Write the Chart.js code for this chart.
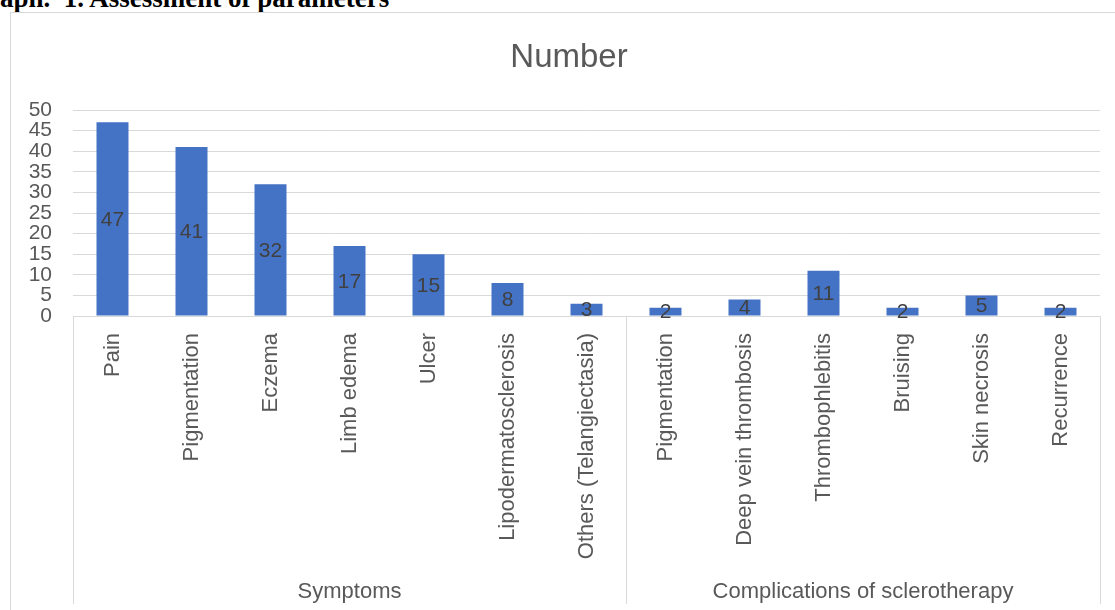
<!DOCTYPE html>
<html>
<head>
<meta charset="utf-8">
<script src="https://cdn.jsdelivr.net/npm/chart.js@4/dist/chart.umd.min.js"></script>
<style>
  html, body { margin: 0; padding: 0; background: #ffffff; overflow: hidden; }
  body { width: 1115px; height: 610px; position: relative; }
  #caption {
    position: absolute; left: -33px; top: -15px;
    font: bold 27px "Liberation Serif", "Times New Roman", serif;
    line-height: 27px; white-space: pre; color: #000;
  }
  #frame {
    position: absolute; left: 10px; top: 12px; width: 1120px; height: 620px;
    border: 1px solid #d9d9d9; box-sizing: border-box;
  }
  #chart { position: absolute; left: 0; top: 0; }
</style>
</head>
<body>
<div id="caption">Graph.  1. Assessment of parameters</div>
<div id="frame"></div>
<canvas id="chart" width="1115" height="610"></canvas>
<script>
// Category labels along the x axis
const categories = [
  'Pain', 'Pigmentation', 'Eczema', 'Limb edema', 'Ulcer',
  'Lipodermatosclerosis', 'Others (Telangiectasia)',
  'Pigmentation', 'Deep vein thrombosis', 'Thrombophlebitis',
  'Bruising', 'Skin necrosis', 'Recurrence'
];
// Number of patients per category
const values = [47, 41, 32, 17, 15, 8, 3, 2, 4, 11, 2, 5, 2];
// Outer grouping of the categories
const groupNames = ['Symptoms', 'Complications of sclerotherapy'];
const groupSizes = [7, 6];
// Y axis range and step
const yMin = 0;
const yMax = 50;
const yStep = 5;

const FONT = '"Liberation Sans", Arial, sans-serif';
const GRID = '#d9d9d9';
const TEXT = '#595959';

const chartTitle = {
  id: 'chartTitle',
  afterDraw(chart) {
    const ctx = chart.ctx;
    ctx.save();
    ctx.font = '33px ' + FONT;
    ctx.fillStyle = TEXT;
    ctx.textAlign = 'center';
    ctx.textBaseline = 'alphabetic';
    ctx.fillText('Number', 569, 67);
    ctx.restore();
  }
};

const barValues = {
  id: 'barValues',
  afterDatasetsDraw(chart) {
    const ctx = chart.ctx;
    const meta = chart.getDatasetMeta(0);
    ctx.save();
    ctx.font = '21px ' + FONT;
    ctx.fillStyle = '#404040';
    ctx.textAlign = 'center';
    ctx.textBaseline = 'middle';
    meta.data.forEach((bar, i) => {
      const mid = (bar.y + bar.base) / 2;
      ctx.fillText(String(values[i]), bar.x, mid + 1);
    });
    ctx.restore();
  }
};

const groupAxis = {
  id: 'groupAxis',
  afterDraw(chart) {
    const ctx = chart.ctx;
    const x = chart.scales.x;
    const area = chart.chartArea;
    const bottom = 604;
    const half = (x.getPixelForValue(1) - x.getPixelForValue(0)) / 2;
    ctx.save();
    ctx.strokeStyle = GRID;
    ctx.lineWidth = 1;
    const edges = [area.left];
    let start = 0;
    groupSizes.forEach((n) => {
      start += n;
      const idx = start - 1;
      edges.push(idx === categories.length - 1 ? area.right : x.getPixelForValue(idx) + half);
    });
    edges.forEach((ex) => {
      const px = Math.round(ex) + 0.5;
      ctx.beginPath();
      ctx.moveTo(px, area.bottom);
      ctx.lineTo(px, bottom);
      ctx.stroke();
    });
    ctx.font = '22px ' + FONT;
    ctx.fillStyle = TEXT;
    ctx.textAlign = 'center';
    ctx.textBaseline = 'alphabetic';
    groupNames.forEach((name, g) => {
      ctx.fillText(name, (edges[g] + edges[g + 1]) / 2, 598);
    });
    ctx.restore();
  }
};

new Chart(document.getElementById('chart'), {
  type: 'bar',
  data: {
    labels: categories,
    datasets: [{
      label: 'Number',
      data: values,
      backgroundColor: '#4472C4',
      borderWidth: 0,
      categoryPercentage: 1.0,
      barPercentage: 0.405
    }]
  },
  options: {
    responsive: false,
    animation: false,
    devicePixelRatio: 1,
    layout: { padding: { top: 110, left: 10, right: 15, bottom: 6 } },
    plugins: {
      legend: { display: false },
      title: { display: false },
      tooltip: { enabled: false }
    },
    scales: {
      x: {
        grid: { display: false, drawTicks: false },
        border: { display: true, color: GRID, width: 1 },
        ticks: {
          autoSkip: false,
          minRotation: 90,
          maxRotation: 90,
          padding: 17,
          color: TEXT,
          font: { family: FONT, size: 22 }
        },
        afterFit(scale) { scale.height = 288; }
      },
      y: {
        min: yMin,
        max: yMax,
        grid: { color: GRID, lineWidth: 1, drawTicks: false },
        border: { display: false },
        ticks: {
          stepSize: yStep,
          autoSkip: false,
          padding: 21,
          color: TEXT,
          font: { family: FONT, size: 21 }
        },
        afterFit(scale) { scale.width = 63; }
      }
    }
  },
  plugins: [chartTitle, barValues, groupAxis]
});
</script>
</body>
</html>
